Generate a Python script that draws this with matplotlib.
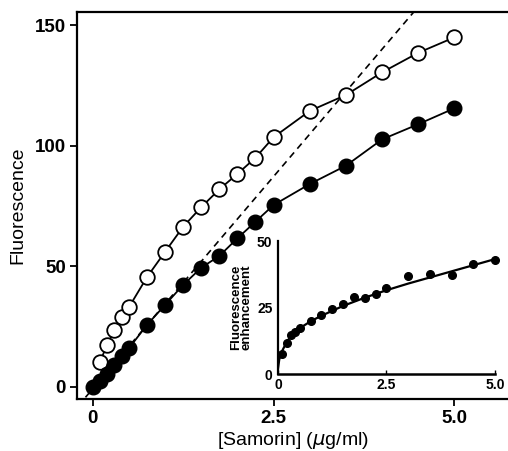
import numpy as np
import matplotlib
matplotlib.use('Agg')
from matplotlib import pyplot as plt

plt.rcParams['font.family'] = ['Liberation Sans', 'DejaVu Sans']

# main panel, open circles
open_x = [0.1, 0.2, 0.3, 0.4, 0.5, 0.75, 1.0, 1.25, 1.5, 1.75, 2.0, 2.25,
          2.5, 3.0, 3.5, 4.0, 4.5, 5.0]
open_y = [10.5, 17.4, 23.6, 28.9, 33.0, 45.5, 56.0, 66.4, 74.5, 81.9, 88.3,
          95.0, 103.5, 114.4, 121.0, 130.4, 138.5, 144.9]

# main panel, filled circles
fill_x = [0.0, 0.1, 0.2, 0.3, 0.4, 0.5, 0.75, 1.0, 1.25, 1.5, 1.75, 2.0,
          2.25, 2.5, 3.0, 3.5, 4.0, 4.5, 5.0]
fill_y = [0.0, 2.5, 5.4, 9.1, 12.8, 16.0, 25.7, 34.0, 42.3, 49.4, 54.3, 61.6,
          68.5, 75.4, 84.1, 91.7, 102.6, 108.9, 115.5]

# dashed initial-slope line
dash_x = [-0.1, 4.5]
dash_y = [-4.3, 157.6]

# inset: fluorescence enhancement
ins_x = [0.1, 0.2, 0.3, 0.4, 0.5, 0.75, 1.0, 1.25, 1.5, 1.75, 2.0, 2.25,
         2.5, 3.0, 3.5, 4.0, 4.5, 5.0]
ins_y = [7.4, 11.8, 14.7, 15.9, 17.4, 19.9, 22.2, 24.3, 26.2, 28.9, 28.4,
         30.0, 32.2, 36.8, 37.7, 37.2, 41.2, 43.0]
fit_x = [0.0, 0.03, 0.1, 0.2, 0.3, 0.4, 0.5, 0.75, 1.0, 1.5, 2.0, 2.5,
         3.0, 4.0, 5.0]
fit_y = [2.0, 5.5, 8.8, 12.0, 14.3, 15.9, 17.2, 19.8, 21.9, 25.6, 28.7,
         31.5, 34.0, 38.6, 43.2]

fig = plt.figure(figsize=(5.08, 4.51), dpi=100)
ax = fig.add_axes([0.1516, 0.1153, 0.8484, 0.8581])

ax.plot(dash_x, dash_y, linestyle=(0, (4, 3)), color='black', lw=1.2)
ax.plot(open_x, open_y, color='black', lw=1.3, marker='o', ms=10.5,
        mfc='white', mec='black', mew=1.3, clip_on=False)
ax.plot(fill_x, fill_y, color='black', lw=1.3, marker='o', ms=10.5,
        mfc='black', mec='black', clip_on=False)

ax.set_xlim(-0.217, 5.74)
ax.set_ylim(-5, 155.4)
ax.set_xticks([0, 2.5, 5.0])
ax.set_xticklabels(['0', '2.5', '5.0'])
ax.set_yticks([0, 50, 100, 150])
ax.spines['right'].set_visible(False)
for s in ['left', 'bottom', 'top']:
    ax.spines[s].set_linewidth(1.6)
ax.tick_params(direction='out', length=5, width=1.3, labelsize=13.5, pad=3)
for lab in ax.get_xticklabels() + ax.get_yticklabels():
    lab.set_fontweight('bold')
ax.set_xlabel('[Samorin] ($\\mu$g/ml)', fontsize=14, labelpad=2)
ax.set_ylabel('Fluorescence', fontsize=14, labelpad=6)

ins = fig.add_axes([0.5472, 0.1707, 0.4272, 0.2949])
ins.plot(fit_x, fit_y, color='black', lw=1.6)
ins.plot(ins_x, ins_y, linestyle='none', marker='o', ms=5.5, color='black',
         clip_on=False)
ins.set_xlim(0, 5.0)
ins.set_ylim(0, 50)
ins.set_xticks([0, 2.5, 5.0])
ins.set_xticklabels(['0', '2.5', '5.0'])
ins.set_yticks([0, 25, 50])
ins.spines['right'].set_visible(False)
ins.spines['top'].set_visible(False)
ins.spines['left'].set_linewidth(1.6)
ins.spines['bottom'].set_linewidth(1.8)
ins.tick_params(axis='x', direction='in', length=3, width=1, labelsize=10, pad=3)
ins.tick_params(axis='y', length=0, labelsize=10, pad=4)
for lab in ins.get_xticklabels() + ins.get_yticklabels():
    lab.set_fontweight('bold')
ins.set_ylabel('Fluorescence\nenhancement', fontsize=9.5, fontweight='bold',
               linespacing=0.9, labelpad=3)
ins.patch.set_alpha(0)

fig.savefig('out.png', dpi=100)
